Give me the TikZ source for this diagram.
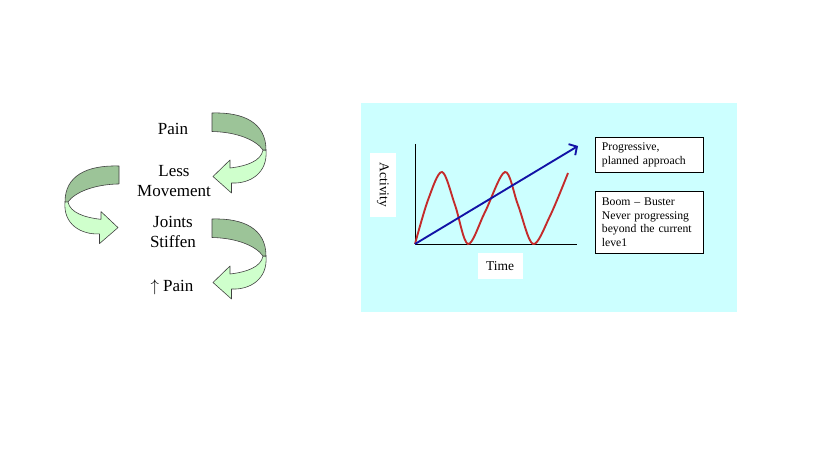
\documentclass[tikz,border=0pt]{standalone}
\usepackage{fontspec}
\setmainfont{Liberation Serif}
\usepackage{tikz}
\usetikzlibrary{calc,positioning,arrows.meta}
\definecolor{paneBg}{HTML}{CCFFFF}
\definecolor{ribbonDark}{HTML}{9CC498}
\definecolor{ribbonLight}{HTML}{CFFFCC}
\definecolor{cycleRed}{HTML}{C42A2A}
\definecolor{planBlue}{HTML}{1212A6}
\newcommand{\curlarrow}{%
  \filldraw[ribbon,fill=ribbonLight] (51,37) .. controls (49,48) and (35,53) .. (18,55)
    -- (18,47) -- (1,63.5) -- (19.5,80) -- (19.5,70)
    .. controls (38,71) and (56,60) .. (54,37) -- cycle;
  \filldraw[ribbon,fill=ribbonDark] (0,0) .. controls (32,-1) and (54,10) .. (54,37)
    -- (51,37) .. controls (44,27) and (25,19) .. (0,18.5) -- cycle;
}

\begin{document}
\begin{tikzpicture}[x=0.03cm,y=-0.03cm,>=Latex,
    ribbon/.style={draw=black!75,line width=0.5pt,line join=round},
    cyclelbl/.style={align=center,font=\fontsize{14.5}{17.5}\selectfont,inner sep=1pt},
    axislbl/.style={fill=white,font=\fontsize{11.5}{13}\selectfont,inner sep=0pt},
    notebox/.style={draw,fill=white,anchor=north west,align=left,inner xsep=0.2cm,
      text width=2.84cm,font=\fontsize{10}{11.5}\selectfont}]
  \useasboundingbox[fill=white] (0,0) rectangle (819,460);

  % vicious circle
  \node[cyclelbl] (pain) at (173,129) {Pain};
  \node[cyclelbl] (less) at (174,181) {Less\\Movement};
  \node[cyclelbl] (joints) at (173,232) {Joints\\Stiffen};
  \node[cyclelbl] (morepain) at (172,287) {$\uparrow$ Pain};
  \begin{scope}[shift={(212,113)}] \curlarrow \end{scope}
  \begin{scope}[shift={(119,166)},xscale=-1,yscale=0.97] \curlarrow \end{scope}
  \begin{scope}[shift={(212,219)}] \curlarrow \end{scope}

  % activity chart
  \fill[paneBg] (361,103) rectangle (737,312);
  \coordinate (origin) at (415,244);
  \coordinate (ytop) at (415,144);
  \coordinate (xend) at (577,244);
  \coordinate (tip) at (578,146);
  \draw[line width=0.8pt] (ytop) -- (origin) -- (xend);
  \node[axislbl,minimum width=1.92cm,minimum height=0.78cm,rotate=-90] (activity) at (383,185) {Activity};
  \node[axislbl,minimum width=1.35cm,minimum height=0.78cm] (time) at (500,266) {Time};
  \draw[cycleRed,line width=1.6pt] plot[smooth,tension=0.55] coordinates
    {(415,244) (428,200) (442,172) (455,205) (468,244) (485,212) (505,172)
     (518,205) (533,244) (550,216) (568,173)};
  \draw[planBlue,line width=1.6pt,-{Straight Barb[length=5pt,width=11pt]}] (origin) -- (tip);
  \node[notebox,minimum height=1.05cm] (progbox) at (595,137) {Progressive,\\planned approach};
  \node[notebox,minimum height=1.86cm] (boombox) at (595,191)
    {Boom -- Buster\\Never progressing\\beyond the current\\leve1};
\end{tikzpicture}
\end{document}
